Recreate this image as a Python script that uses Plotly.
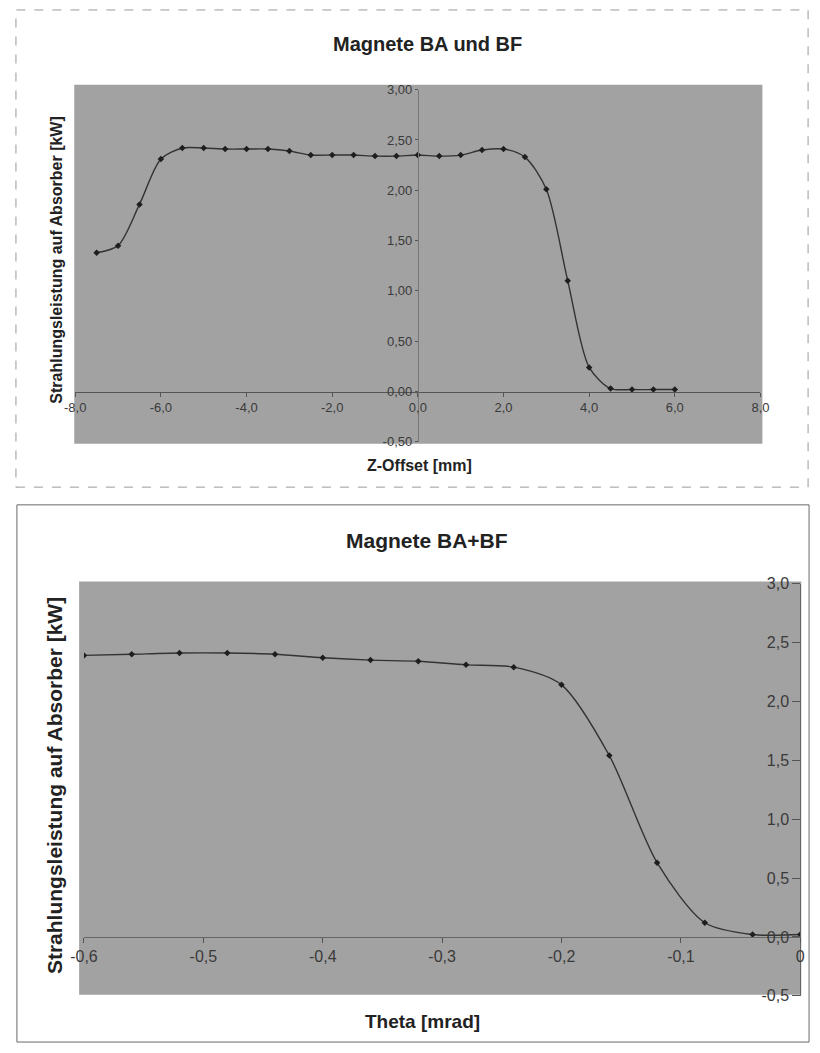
import plotly.graph_objects as go

# ---------------- data ----------------
z_offset = [-7.5, -7.0, -6.5, -6.0, -5.5, -5.0, -4.5, -4.0, -3.5, -3.0, -2.5, -2.0,
            -1.5, -1.0, -0.5, 0.0, 0.5, 1.0, 1.5, 2.0, 2.5, 3.0, 3.5, 4.0, 4.5, 5.0,
            5.5, 6.0]
power_z = [1.38, 1.45, 1.86, 2.31, 2.42, 2.42, 2.41, 2.41, 2.41, 2.39, 2.35, 2.35,
           2.35, 2.34, 2.34, 2.35, 2.34, 2.35, 2.40, 2.41, 2.33, 2.01, 1.10, 0.24,
           0.03, 0.02, 0.02, 0.02]

theta = [-0.60, -0.56, -0.52, -0.48, -0.44, -0.40, -0.36, -0.32, -0.28, -0.24,
         -0.20, -0.16, -0.12, -0.08, -0.04, 0.00]
power_t = [2.39, 2.40, 2.41, 2.41, 2.40, 2.37, 2.35, 2.34, 2.31, 2.29,
           2.14, 1.54, 0.63, 0.12, 0.02, 0.02]

top_xticks = [-8, -6, -4, -2, 0, 2, 4, 6, 8]
top_xlabels = ["-8,0", "-6,0", "-4,0", "-2,0", "0,0", "2,0", "4,0", "6,0", "8,0"]
top_yticks = [-0.5, 0, 0.5, 1.0, 1.5, 2.0, 2.5, 3.0]
top_ylabels = ["-0,50", "0,00", "0,50", "1,00", "1,50", "2,00", "2,50", "3,00"]

bot_xticks = [-0.6, -0.5, -0.4, -0.3, -0.2, -0.1, 0]
bot_xlabels = ["-0,6", "-0,5", "-0,4", "-0,3", "-0,2", "-0,1", "0"]
bot_yticks = [-0.5, 0, 0.5, 1.0, 1.5, 2.0, 2.5, 3.0]
bot_ylabels = ["-0,5", "0,0", "0,5", "1,0", "1,5", "2,0", "2,5", "3,0"]

title_top = "Magnete BA und BF"
title_bot = "Magnete BA+BF"
xlabel_top = "Z-Offset [mm]"
xlabel_bot = "Theta [mrad]"
ylabel = "Strahlungsleistung auf Absorber [kW]"

# ---------------- layout helpers ----------------
W, H = 820, 1053
def px(x):
    return x / W
def py(y):
    return 1 - y / H

FONT = "Liberation Sans, Arial, sans-serif"
LINE_C = "#333333"
MARK_C = "#1e1e1e"
GRAY = "#a2a2a2"

fig = go.Figure()

fig.add_trace(go.Scatter(
    x=z_offset, y=power_z, mode="lines+markers", xaxis="x", yaxis="y",
    line=dict(color=LINE_C, width=1.4, shape="spline", smoothing=0.8),
    marker=dict(symbol="diamond", size=5, color=MARK_C),
    showlegend=False, hoverinfo="x+y"))

fig.add_trace(go.Scatter(
    x=theta, y=power_t, mode="lines+markers", xaxis="x2", yaxis="y2",
    line=dict(color=LINE_C, width=1.4, shape="spline", smoothing=0.8),
    marker=dict(symbol="diamond", size=5, color=MARK_C),
    showlegend=False, hoverinfo="x+y"))

tick_font_top = dict(family=FONT, size=13, color="#3a3a3a")
tick_font_bot = dict(family=FONT, size=16, color="#3a3a3a")

def ann(text, x, y, size, angle=0):
    return dict(text=f"<b>{text}</b>", xref="paper", yref="paper",
                x=px(x), y=py(y), xanchor="center", yanchor="middle",
                showarrow=False, textangle=angle,
                font=dict(family=FONT, size=size, color="#222"))

fig.update_layout(
    width=W, height=H, autosize=False,
    margin=dict(l=0, r=0, t=0, b=0),
    paper_bgcolor="white", plot_bgcolor="rgba(0,0,0,0)",
    xaxis=dict(domain=[px(63), px(768)], range=[-8, 8], anchor="free",
               position=py(390), tickvals=top_xticks, ticktext=top_xlabels,
               showgrid=False, zeroline=False, showline=True, linecolor="#555",
               linewidth=1, ticks="outside", ticklen=4, tickcolor="#555",
               tickfont=tick_font_top, fixedrange=True),
    yaxis=dict(domain=[py(441), py(83)], range=[-0.5, 3.0], anchor="free",
               position=px(415.5), side="left", tickvals=top_yticks,
               ticktext=top_ylabels, showgrid=False, zeroline=False,
               showline=True, linecolor="#777", linewidth=1, ticks="outside",
               ticklen=3, tickcolor="#555", tickfont=tick_font_top,
               fixedrange=True),
    xaxis2=dict(domain=[px(72), px(809)], range=[-0.6, 0.0], anchor="free",
                position=py(944), tickvals=bot_xticks, ticktext=bot_xlabels,
                showgrid=False, zeroline=False, showline=True, linecolor="#666",
                linewidth=1, ticks="outside", ticklen=5, tickcolor="#555",
                tickfont=tick_font_bot, fixedrange=True),
    yaxis2=dict(domain=[py(1004), py(585)], range=[-0.5, 3.0], anchor="free",
                position=px(809), side="left", tickvals=bot_yticks,
                ticktext=bot_ylabels, showgrid=False, zeroline=False,
                showline=True, linecolor="#666", linewidth=1, ticks="outside",
                ticklen=8, tickcolor="#555", tickfont=tick_font_bot,
                fixedrange=True),
    shapes=[
        # chart frames
        dict(type="rect", xref="paper", yref="paper", x0=px(2), x1=px(817),
             y0=py(487), y1=py(2), line=dict(color="#9a9a9a", width=1, dash="dash"),
             fillcolor="rgba(0,0,0,0)", layer="below"),
        dict(type="rect", xref="paper", yref="paper", x0=px(3), x1=px(818),
             y0=py(1051), y1=py(505), line=dict(color="#6a6a6a", width=1),
             fillcolor="rgba(0,0,0,0)", layer="below"),
        # plot areas
        dict(type="rect", xref="paper", yref="paper", x0=px(62), x1=px(770),
             y0=py(443), y1=py(78), line=dict(width=0), fillcolor=GRAY,
             layer="below"),
        dict(type="rect", xref="paper", yref="paper", x0=px(67), x1=px(810),
             y0=py(1003), y1=py(583), line=dict(width=0), fillcolor=GRAY,
             layer="below"),
    ],
    annotations=[
        ann(title_top, 425, 37, 20),
        ann(title_bot, 425, 541, 21),
        ann(xlabel_top, 417, 465, 16),
        ann(xlabel_bot, 420, 1030, 19),
        ann(ylabel, 44, 256, 16, -90),
        ann(ylabel, 41, 790, 21, -90),
    ],
)

fig.write_html(
    "out.html",
    config={"displayModeBar": False, "staticPlot": True},
    post_script="document.body.style.margin='0';document.body.style.padding='0';"
                "document.body.style.overflow='hidden';",
)
